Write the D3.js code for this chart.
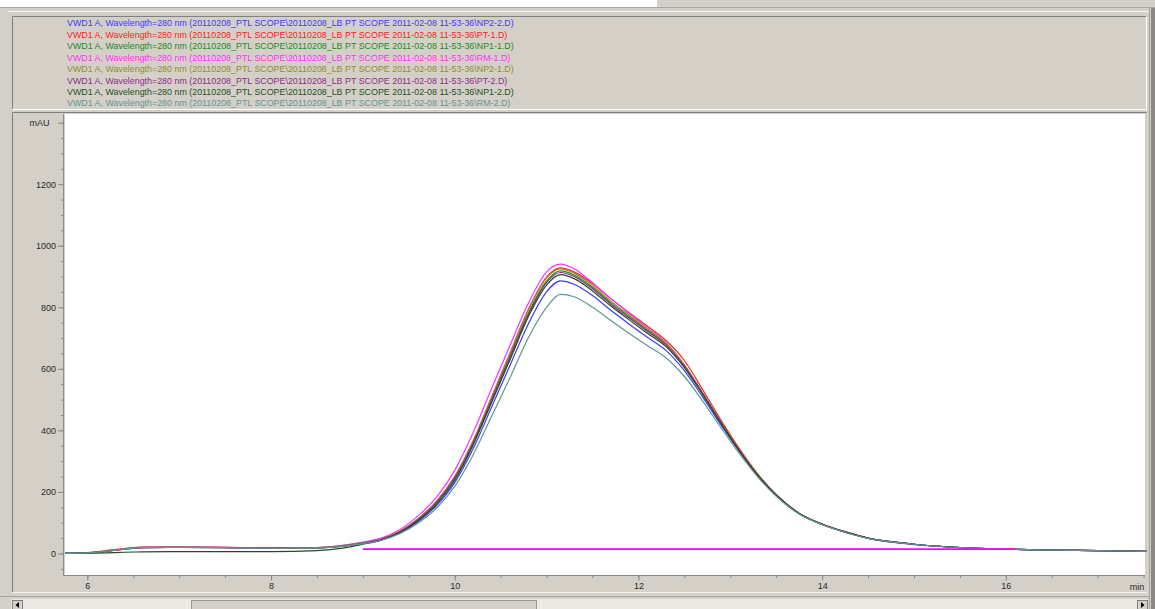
<!DOCTYPE html>
<html>
<head>
<meta charset="utf-8">
<script src="https://cdn.jsdelivr.net/npm/d3@7"></script>
<style>
  html, body { margin: 0; padding: 0; background: #d4d0c8; overflow: hidden; }
  svg { display: block; font-family: "Liberation Sans", Arial, sans-serif; }
</style>
</head>
<body>
<svg id="chart" width="1155" height="609"></svg>
<script>
// Retention time grid (min) shared by all signals
const times = [5.76, 6.0, 6.2, 6.4, 6.6, 7.0, 7.5, 8.0, 8.5, 8.8, 9.0, 9.2, 9.4, 9.6, 9.8, 10.0, 10.2, 10.4, 10.6, 10.8, 11.0, 11.15, 11.3, 11.5, 11.7, 11.9, 12.1, 12.3, 12.5, 12.7, 12.9, 13.1, 13.3, 13.5, 13.75, 14.0, 14.25, 14.5, 15.0, 15.5, 16.0, 16.5, 17.0, 17.53];

// Absorbance (mAU) per run
const np2_2 = [0,2,7,14,19,20,19,17,18,24,33,44,66,103,155,230,340,475,610,745,850,886,875,838,790,745,702,660,594,508,417,330,252,188,129,94,69,50,30,19,14,11,9,7];
const pt_1  = [0,3,9,16,21,21,20,18,19,26,35,47,71,112,168,250,365,507,650,792,898,928,915,877,828,782,738,692,627,532,433,340,258,192,131,96,70,50,30,19,14,11,9,7];
const np1_1 = [0,2,7,14,19,20,19,17,18,25,34,46,70,110,165,245,360,500,640,780,885,918,905,865,815,770,725,680,610,520,425,335,255,190,130,95,70,50,30,19,14,11,9,7];
const rm_1  = [0,2,7,15,20,21,20,18,19,27,37,50,77,122,182,270,392,535,675,812,915,940,925,880,828,780,733,685,612,520,425,333,253,188,129,94,69,49,29,19,14,11,9,7];
const np2_1 = [0,2,8,15,20,21,20,18,19,26,35,47,72,113,169,250,366,507,648,790,895,925,911,871,820,774,729,683,613,522,426,335,255,190,130,95,70,50,30,19,14,11,9,7];
const pt_2  = [0,2,7,14,19,20,19,18,18,25,34,46,70,110,165,244,358,497,636,775,880,913,900,860,810,765,721,677,608,519,424,334,254,190,130,95,70,50,30,19,14,11,9,7];
const np1_2 = [0,1,2,4,5,6,6,6,9,18,30,43,67,106,160,238,352,490,628,768,872,906,893,853,804,759,715,672,604,516,422,333,254,189,130,95,70,50,30,19,14,11,9,7];
const rm_2  = [0,2,7,14,19,20,19,17,18,24,32,43,64,98,147,218,320,445,570,700,800,842,834,800,757,715,675,636,575,495,408,324,248,186,128,94,69,49,30,19,14,11,9,7];

const seriesNames = ["NP2-2", "PT-1", "NP1-1", "RM-1", "NP2-1", "PT-2", "NP1-2", "RM-2"];
const seriesValues = [np2_2, pt_1, np1_1, rm_1, np2_1, pt_2, np1_2, rm_2];
const seriesColors = ["#3a3aff", "#ff2020", "#1f8a1f", "#ff30ff", "#8f8f2a", "#8f2a8f", "#1f4f1f", "#5f9696"];

// Integration baseline of the RM-1 run
const baselineTimes = [9.0, 16.1];
const baselineValues = [14, 14];

// Axis ticks
const xMajorTicks = [6, 8, 10, 12, 14, 16];
const yMajorTicks = [0, 200, 400, 600, 800, 1000, 1200];

const svg = d3.select("#chart");
const W = 1155, H = 609;

// ---------- window chrome ----------
const chrome = svg.append("g");
chrome.append("rect").attr("x", 0).attr("y", 0).attr("width", W).attr("height", H).attr("fill", "#d4d0c8");
chrome.append("rect").attr("x", 0).attr("y", 0).attr("width", 657).attr("height", 7).attr("fill", "#ffffff");
chrome.append("line").attr("x1", 0).attr("x2", W).attr("y1", 7.5).attr("y2", 7.5).attr("stroke", "#a8a5a0");
chrome.append("line").attr("x1", 8).attr("x2", 1150).attr("y1", 11.5).attr("y2", 11.5).attr("stroke", "#f4f3f0");

// legend panel
chrome.append("path").attr("d", "M12.5,109.5 V16.5 H1146.5").attr("fill", "none").attr("stroke", "#808080");
chrome.append("path").attr("d", "M12.5,109.5 H1146.5 V16.5").attr("fill", "none").attr("stroke", "#ffffff");

// plot panel
chrome.append("path").attr("d", "M12.5,592.5 V112.5 H1146.5").attr("fill", "none").attr("stroke", "#808080");
chrome.append("line").attr("x1", 12).attr("x2", 1147).attr("y1", 592.5).attr("y2", 592.5).attr("stroke", "#f4f3f0");
chrome.append("line").attr("x1", 0).attr("x2", 1150).attr("y1", 596.5).attr("y2", 596.5).attr("stroke", "#a8a5a0");

// right-hand edges
chrome.append("line").attr("x1", 1149.5).attr("x2", 1149.5).attr("y1", 8).attr("y2", H).attr("stroke", "#a8a5a0");
chrome.append("rect").attr("x", 1151).attr("y", 8).attr("width", 4).attr("height", H - 8).attr("fill", "#8c8a86");

// scrollbar
const sb = chrome.append("g");
sb.append("rect").attr("x", 11).attr("y", 599).attr("width", 1137).attr("height", 10).attr("fill", "#ebe9e4");
sb.append("rect").attr("x", 12.5).attr("y", 600.5).attr("width", 10).attr("height", 10).attr("fill", "#d4d0c8").attr("stroke", "#808080");
sb.append("path").attr("d", "M15.5,605 L19,602 L19,608 Z").attr("fill", "#000");
sb.append("rect").attr("x", 191.5).attr("y", 600.5).attr("width", 345).attr("height", 10).attr("fill", "#d4d0c8").attr("stroke", "#9a9792");
sb.append("rect").attr("x", 1137.5).attr("y", 600.5).attr("width", 10).attr("height", 10).attr("fill", "#d4d0c8").attr("stroke", "#808080");
sb.append("path").attr("d", "M1144.5,605 L1141,602 L1141,608 Z").attr("fill", "#000");

// ---------- legend ----------
const legendRows = [23, 34.6, 46, 57.5, 69, 80.3, 91.7, 103];
svg.append("g").selectAll("text")
  .data(seriesNames)
  .join("text")
  .attr("x", 67)
  .attr("y", (d, i) => legendRows[i] + 3.2)
  .attr("font-size", 8.9)
  .attr("fill", (d, i) => seriesColors[i])
  .text(d => "VWD1 A, Wavelength=280 nm (20110208_PTL SCOPE\\20110208_LB PT SCOPE 2011-02-08 11-53-36\\" + d + ".D)");

// ---------- plot ----------
const x = d3.scaleLinear().domain([5.757, 17.515]).range([65, 1145]);
const y = d3.scaleLinear().domain([-70, 1428]).range([575, 114]);

svg.append("rect").attr("x", 65).attr("y", 114).attr("width", 1080).attr("height", 461).attr("fill", "#ffffff");

const axisColor = "#8a8a8a";

// y axis: minor ticks every 50, major every 200
const yMinor = svg.append("g").attr("transform", "translate(63.5,0)")
  .call(d3.axisLeft(y).tickValues(d3.range(-50, 1401, 50)).tickSize(2.5).tickSizeOuter(0).tickFormat(""));
const yMajor = svg.append("g").attr("transform", "translate(63.5,0)")
  .call(d3.axisLeft(y).tickValues(yMajorTicks.concat([1400])).tickSize(5.5).tickSizeOuter(0)
    .tickFormat(d => d === 1400 ? "mAU" : d));
[yMinor, yMajor].forEach(g => {
  g.select(".domain").attr("stroke", axisColor).attr("d", "M0,114V575");
  g.selectAll(".tick line").attr("stroke", axisColor);
  g.selectAll(".tick text").attr("font-size", 9).attr("fill", "#2a2a2a")
    .attr("font-family", "'Liberation Sans', Arial, sans-serif");
});
yMajor.selectAll(".tick text").attr("x", -7.5);
yMajor.selectAll(".tick").filter(d => d === 1400).select("text").attr("x", -14);

// x axis: minor ticks every 0.5 min, major every 2 min
const xMinor = svg.append("g").attr("transform", "translate(0,575.5)")
  .call(d3.axisBottom(x).tickValues(d3.range(6, 17.51, 0.5)).tickSize(2.5).tickSizeOuter(0).tickFormat(""));
const xMajor = svg.append("g").attr("transform", "translate(0,575.5)")
  .call(d3.axisBottom(x).tickValues(xMajorTicks).tickSize(5).tickSizeOuter(0));
[xMinor, xMajor].forEach(g => {
  g.select(".domain").attr("stroke", axisColor).attr("d", "M63.5,0H1145");
  g.selectAll(".tick line").attr("stroke", axisColor);
  g.selectAll(".tick text").attr("font-size", 9).attr("fill", "#2a2a2a")
    .attr("font-family", "'Liberation Sans', Arial, sans-serif").attr("y", 7);
});
svg.append("text").attr("x", 1137).attr("y", 589.5).attr("text-anchor", "middle")
  .attr("font-size", 9).attr("fill", "#2a2a2a").text("min");

// signals
const plot = svg.append("g");
const line = d3.line().x(d => x(d[0])).y(d => y(d[1])).curve(d3.curveMonotoneX);
seriesValues.forEach((vals, i) => {
  plot.append("path")
    .datum(times.map((t, k) => [t, vals[k]]))
    .attr("fill", "none")
    .attr("stroke", seriesColors[i])
    .attr("stroke-width", 1.2)
    .attr("d", line);
});

// integration baseline
plot.append("path")
  .datum(baselineTimes.map((t, k) => [t, baselineValues[k]]))
  .attr("fill", "none")
  .attr("stroke", "#ff00ff")
  .attr("stroke-width", 1.6)
  .attr("d", d3.line().x(d => x(d[0])).y(d => y(d[1])));
</script>
</body>
</html>
